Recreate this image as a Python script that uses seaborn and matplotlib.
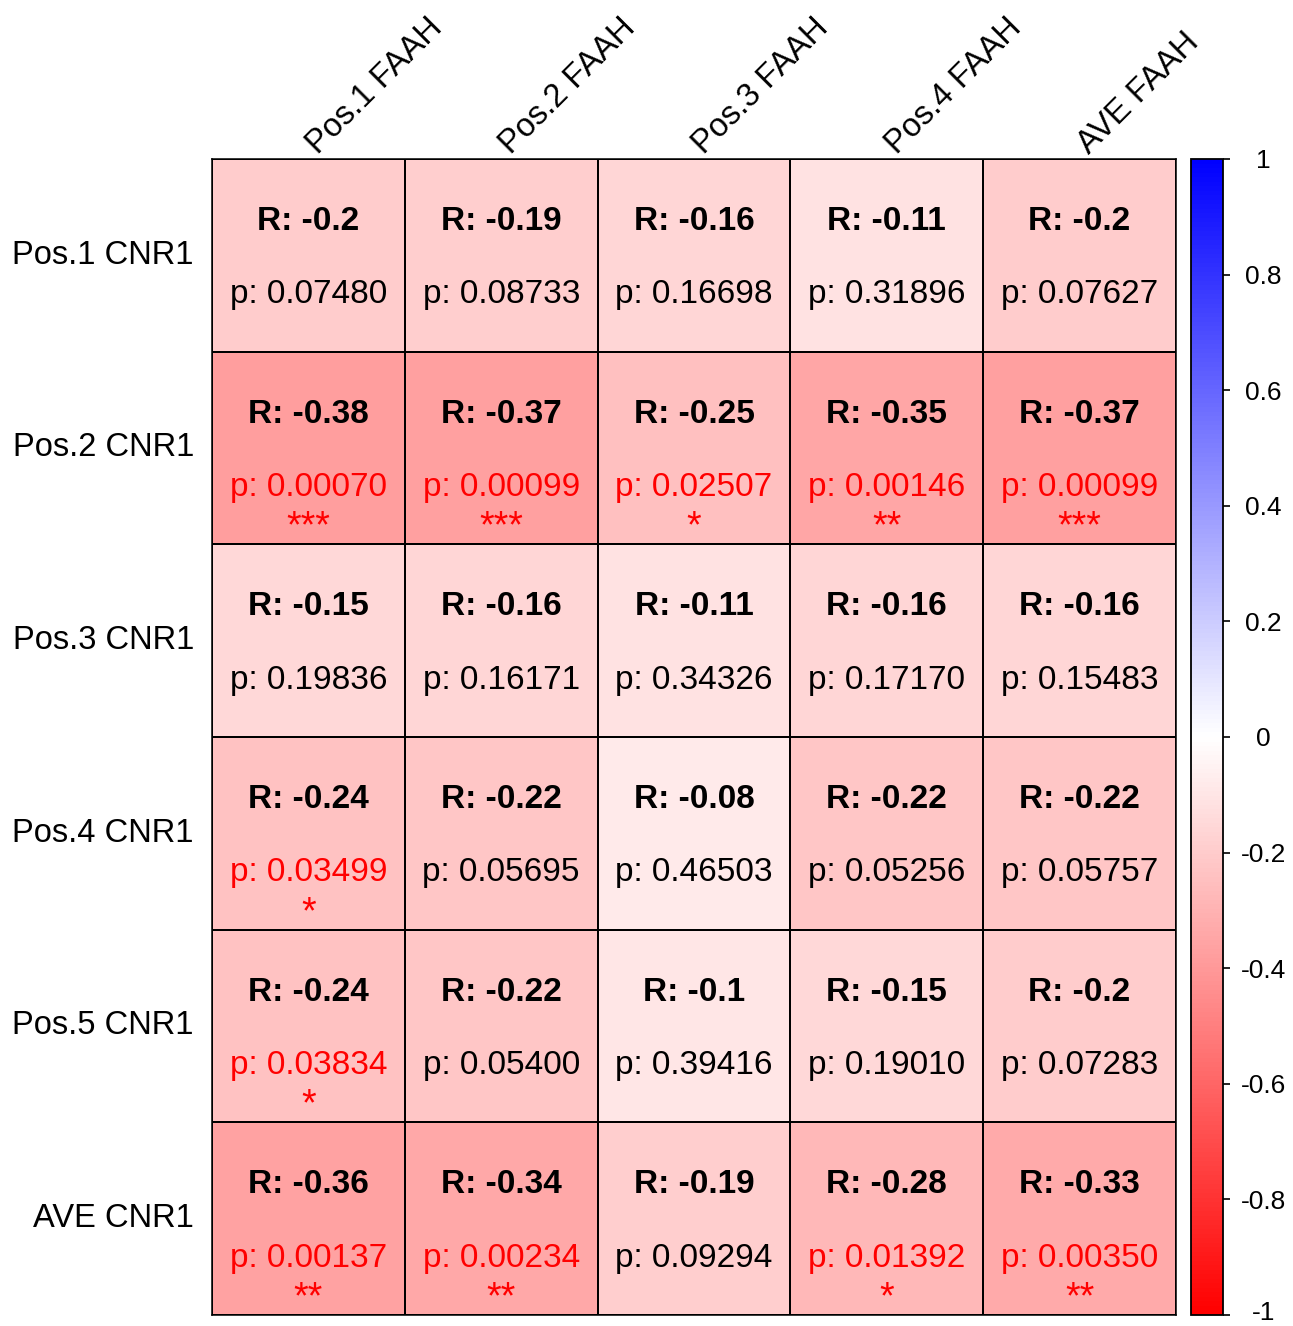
import numpy as np
import pandas as pd
import matplotlib
matplotlib.use("Agg")
import matplotlib.pyplot as plt
import matplotlib.transforms as mtransforms
import seaborn as sns
from matplotlib.colors import LinearSegmentedColormap

sns.set_theme(style="white")
plt.rcParams["font.family"] = ["Liberation Sans", "DejaVu Sans"]
plt.rcParams["axes.unicode_minus"] = False
plt.rcParams["text.color"] = "black"
plt.rcParams["xtick.color"] = "black"
plt.rcParams["ytick.color"] = "black"

row_labels = ["Pos.1 CNR1", "Pos.2 CNR1", "Pos.3 CNR1", "Pos.4 CNR1", "Pos.5 CNR1", "AVE CNR1"]
col_labels = ["Pos.1 FAAH", "Pos.2 FAAH", "Pos.3 FAAH", "Pos.4 FAAH", "AVE FAAH"]

r_pos1 = [-0.2, -0.19, -0.16, -0.11, -0.2]
r_pos2 = [-0.38, -0.37, -0.25, -0.35, -0.37]
r_pos3 = [-0.15, -0.16, -0.11, -0.16, -0.16]
r_pos4 = [-0.24, -0.22, -0.08, -0.22, -0.22]
r_pos5 = [-0.24, -0.22, -0.1, -0.15, -0.2]
r_ave = [-0.36, -0.34, -0.19, -0.28, -0.33]

p_pos1 = ["0.07480", "0.08733", "0.16698", "0.31896", "0.07627"]
p_pos2 = ["0.00070", "0.00099", "0.02507", "0.00146", "0.00099"]
p_pos3 = ["0.19836", "0.16171", "0.34326", "0.17170", "0.15483"]
p_pos4 = ["0.03499", "0.05695", "0.46503", "0.05256", "0.05757"]
p_pos5 = ["0.03834", "0.05400", "0.39416", "0.19010", "0.07283"]
p_ave = ["0.00137", "0.00234", "0.09294", "0.01392", "0.00350"]

cbar_ticks = [-1, -0.8, -0.6, -0.4, -0.2, 0, 0.2, 0.4, 0.6, 0.8, 1]
cbar_ticklabels = ["-1", "-0.8", "-0.6", "-0.4", "-0.2", "0", "0.2", "0.4", "0.6", "0.8", "1"]

r_df = pd.DataFrame([r_pos1, r_pos2, r_pos3, r_pos4, r_pos5, r_ave],
                    index=row_labels, columns=col_labels)
p_df = pd.DataFrame([p_pos1, p_pos2, p_pos3, p_pos4, p_pos5, p_ave],
                    index=row_labels, columns=col_labels)

cmap = LinearSegmentedColormap.from_list("rwb", ["#FF0000", "#FFFFFF", "#0000FF"])

W, H = 1293, 1326
fig = plt.figure(figsize=(W / 100, H / 100), dpi=100)
ax = fig.add_axes([212 / W, 1 - 1315 / H, (1176 - 212) / W, (1315 - 159) / H])
cax = fig.add_axes([1191 / W, 1 - 1315 / H, 32 / W, (1315 - 159) / H])

sns.heatmap(r_df, ax=ax, cbar_ax=cax, cmap=cmap, vmin=-1, vmax=1,
            linewidths=1.1, linecolor="black", square=False,
            cbar_kws={"ticks": cbar_ticks})

for s in ax.spines.values():
    s.set_visible(True)
    s.set_color("black")
    s.set_linewidth(1.1)


def stars(p):
    v = float(p)
    if v < 0.001:
        return "***"
    if v < 0.01:
        return "**"
    if v < 0.05:
        return "*"
    return ""


for i, row in enumerate(row_labels):
    for j, col in enumerate(col_labels):
        r = r_df.loc[row, col]
        p = p_df.loc[row, col]
        st = stars(p)
        color = "#FF0000" if st else "black"
        ax.text(j + 0.5, i + 0.325, f"R: {r:g}", ha="center", va="center",
                fontsize=24, fontweight="bold", color="black")
        ax.text(j + 0.5, i + 0.705, f"p: {p}", ha="center", va="center",
                fontsize=24, color=color)
        if st:
            ax.text(j + 0.5, i + 0.965, st, ha="center", va="baseline",
                    fontsize=27, color=color)

ax.xaxis.tick_top()
ax.set_xticks(np.arange(len(col_labels)) + 0.5)
ax.set_xticklabels(col_labels, rotation=45, ha="left", va="baseline",
                   rotation_mode="anchor", fontsize=23.5, color="black")
ax.tick_params(axis="x", top=False, bottom=False, length=0, pad=3)
ax.set_yticklabels(row_labels, rotation=0, fontsize=23.5, color="black")
ax.tick_params(axis="y", left=False, length=0, pad=13)
ax.set_xlabel("")
ax.set_ylabel("")
shift = mtransforms.ScaledTranslation(7 / 72, 0, fig.dpi_scale_trans)
for lab in ax.get_xticklabels():
    lab.set_transform(lab.get_transform() + shift)

cbar = ax.collections[0].colorbar
cbar.outline.set_edgecolor("black")
cbar.outline.set_linewidth(1.3)
cbar.outline.set_visible(True)
cax.set_yticks(cbar_ticks)
cax.set_yticklabels(cbar_ticklabels)
cax.tick_params(axis="y", right=True, length=5, width=1.2, color="black",
                labelcolor="black", labelsize=19, pad=24)
for lab in cax.get_yticklabels():
    lab.set_horizontalalignment("center")
# keep the lowest label inside the figure edge
lift = mtransforms.ScaledTranslation(0, 3 / 72, fig.dpi_scale_trans)
low = cax.get_yticklabels()[0]
low.set_transform(low.get_transform() + lift)

fig.savefig("out.png", dpi=100)
